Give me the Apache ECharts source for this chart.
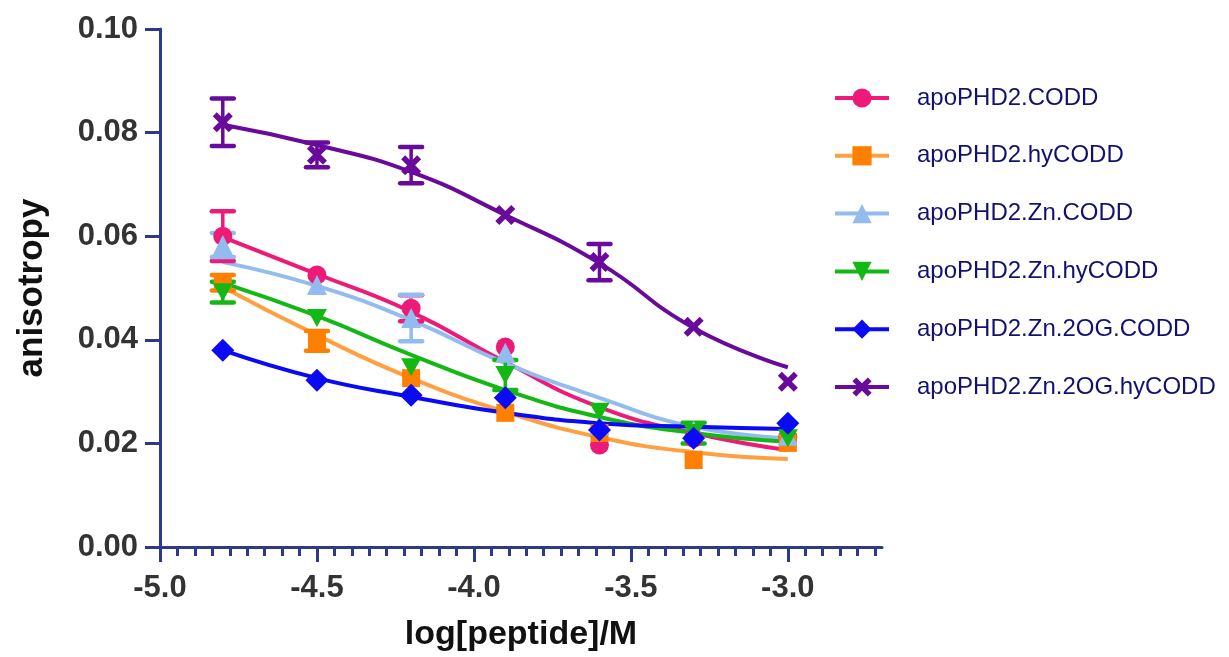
<!DOCTYPE html>
<html>
<head>
<meta charset="utf-8">
<script src="https://cdn.jsdelivr.net/npm/echarts@6/dist/echarts.min.js"></script>
<style>html,body{margin:0;padding:0;background:#fff;}#c{width:1229px;height:657px;}</style>
</head>
<body>
<div id="c"></div>
<script>
// ---- data ----
const xValues = [-4.8, -4.5, -4.2, -3.9, -3.6, -3.3, -3.0];
const xTickLabels = [-5.0, -4.5, -4.0, -3.5, -3.0];
const yTickLabels = [0.00, 0.02, 0.04, 0.06, 0.08, 0.10];
const seriesNames = ['apoPHD2.CODD', 'apoPHD2.hyCODD', 'apoPHD2.Zn.CODD', 'apoPHD2.Zn.hyCODD', 'apoPHD2.Zn.2OG.CODD', 'apoPHD2.Zn.2OG.hyCODD'];

const codd_pts      = [0.0600, 0.0525, 0.0461, 0.0386, 0.0197, 0.0210, 0.0212];
const codd_err      = [0.0048, 0, 0.0025, 0, 0, 0, 0];
const codd_fit      = [0.0598, 0.0527, 0.0454, 0.0357, 0.0270, 0.0220, 0.0187];

const hycodd_pts    = [0.0510, 0.0398, 0.0326, 0.0259, 0.0220, 0.0168, 0.0201];
const hycodd_err    = [0.0015, 0.0019, 0, 0, 0, 0, 0];
const hycodd_fit    = [0.0502, 0.0409, 0.0326, 0.0261, 0.0212, 0.0183, 0.0170];

const zncodd_pts    = [0.0583, 0.0506, 0.0442, 0.0375, 0.0235, 0.0225, 0.0215];
const zncodd_err    = [0.0023, 0, 0.0045, 0, 0, 0, 0];
const zncodd_fit    = [0.0550, 0.0504, 0.0438, 0.0355, 0.0288, 0.0232, 0.0210];

const znhycodd_pts  = [0.0492, 0.0442, 0.0347, 0.0332, 0.0261, 0.0220, 0.0210];
const znhycodd_err  = [0.0020, 0, 0, 0.0029, 0, 0.0020, 0];
const znhycodd_fit  = [0.0510, 0.0446, 0.0371, 0.0303, 0.0251, 0.0220, 0.0203];

const zn2ogcodd_pts = [0.0380, 0.0322, 0.0293, 0.0288, 0.0226, 0.0210, 0.0239];
const zn2ogcodd_err = [0, 0, 0, 0, 0, 0, 0];
const zn2ogcodd_fit = [0.0380, 0.0326, 0.0290, 0.0259, 0.0239, 0.0232, 0.0228];

const zn2oghy_pts   = [0.0820, 0.0757, 0.0737, 0.0641, 0.0550, 0.0425, 0.0319];
const zn2oghy_err   = [0.0046, 0.0024, 0.0035, 0, 0.0035, 0, 0];
const zn2oghy_fit   = [0.0815, 0.0776, 0.0724, 0.0641, 0.0548, 0.0423, 0.0347];

// ---- styling ----
const AXIS = '#2d3a8c';
const FONT = "'Liberation Sans', Arial, sans-serif";
const X_SYMBOL = 'path://M2,0 L5,3 L8,0 L10,2 L7,5 L10,8 L8,10 L5,7 L2,10 L0,8 L3,5 L0,2 Z';
const DOWN_TRI = 'path://M0,0 L10,0 L5,9 Z';

const styles = [
  {line: '#ee1a78', mark: '#ee1a78', symbol: 'circle', size: 19},
  {line: '#ffa040', mark: '#ff8000', symbol: 'rect', size: 18},
  {line: '#92bcf0', mark: '#92bcf0', symbol: 'triangle', size: 20},
  {line: '#14b814', mark: '#14b814', symbol: DOWN_TRI, size: 20},
  {line: '#0a0af5', mark: '#0a0af5', symbol: 'diamond', size: 23},
  {line: '#690a9c', mark: '#690a9c', symbol: X_SYMBOL, size: 20}
];
const ptsList = [codd_pts, hycodd_pts, zncodd_pts, znhycodd_pts, zn2ogcodd_pts, zn2oghy_pts];
const errList = [codd_err, hycodd_err, zncodd_err, znhycodd_err, zn2ogcodd_err, zn2oghy_err];
const fitList = [codd_fit, hycodd_fit, zncodd_fit, znhycodd_fit, zn2ogcodd_fit, zn2oghy_fit];

// minor tick positions (9 subdivisions per 0.5)
const minorTicks = [];
for (let k = 0; k <= 41; k++) { if (k % 9 !== 0) minorTicks.push(-5 + k * 0.5 / 9); }

function errRenderer(color) {
  return function (params, api) {
    const x = api.value(0), y = api.value(1), e = api.value(2);
    const top = api.coord([x, y + e]);
    const bot = api.coord([x, y - e]);
    const hw = 11;
    return {
      type: 'group',
      children: [
        {type: 'line', shape: {x1: top[0], y1: top[1], x2: bot[0], y2: bot[1]}, style: {stroke: color, lineWidth: 3.5}},
        {type: 'line', shape: {x1: top[0] - hw, y1: top[1], x2: top[0] + hw, y2: top[1]}, style: {stroke: color, lineWidth: 4.5, lineCap: 'round'}},
        {type: 'line', shape: {x1: bot[0] - hw, y1: bot[1], x2: bot[0] + hw, y2: bot[1]}, style: {stroke: color, lineWidth: 4.5, lineCap: 'round'}}
      ]
    };
  };
}

const series = [];
// fit curves
seriesNames.forEach((name, i) => {
  series.push({
    name: name, type: 'line', xAxisIndex: 0, yAxisIndex: 0,
    data: xValues.map((x, j) => [x, fitList[i][j]]),
    smooth: 0.5, showSymbol: false,
    symbol: styles[i].symbol, symbolKeepAspect: true, symbolSize: styles[i].size,
    lineStyle: {color: styles[i].line, width: 4},
    itemStyle: {color: styles[i].mark},
    z: 2, silent: true, animation: false
  });
});
// error bars
seriesNames.forEach((name, i) => {
  const d = [];
  xValues.forEach((x, j) => { if (errList[i][j] > 0) d.push([x, ptsList[i][j], errList[i][j]]); });
  series.push({
    type: 'custom', xAxisIndex: 0, yAxisIndex: 0,
    renderItem: errRenderer(styles[i].mark),
    encode: {x: 0, y: 1},
    data: d, z: 3, silent: true, animation: false
  });
});
// data points
seriesNames.forEach((name, i) => {
  series.push({
    name: name, type: 'scatter', xAxisIndex: 0, yAxisIndex: 0,
    data: xValues.map((x, j) => [x, ptsList[i][j]]),
    symbol: styles[i].symbol, symbolSize: styles[i].size, symbolKeepAspect: true,
    itemStyle: {color: styles[i].mark, opacity: 1},
    z: 4, silent: true, animation: false
  });
});

const chart = echarts.init(document.getElementById('c'), null, {renderer: 'canvas'});
chart.setOption({
  backgroundColor: '#ffffff',
  animation: false,
  textStyle: {fontFamily: FONT},
  grid: {left: 160, right: 347, top: 29, bottom: 110, containLabel: false},
  legend: {
    data: seriesNames,
    orient: 'vertical',
    left: 828, top: 81,
    itemWidth: 54, itemHeight: 24, itemGap: 33.8,
    lineStyle: {width: 4},
    textStyle: {fontSize: 24, color: '#12126e', fontFamily: FONT, padding: [0, 0, 0, 23], lineHeight: 24},
    selectedMode: false
  },
  xAxis: [
    {
      type: 'value', min: -5, max: -2.7, interval: 0.5,
      name: 'log[peptide]/M', nameLocation: 'middle', nameGap: 71,
      nameTextStyle: {fontSize: 34, fontWeight: 'bold', color: '#111', fontFamily: FONT},
      axisLine: {show: true, onZero: false, lineStyle: {color: AXIS, width: 3}},
      axisTick: {show: true, length: 15, lineStyle: {color: AXIS, width: 3}, customValues: xTickLabels},
      axisLabel: {
        customValues: xTickLabels,
        formatter: v => v.toFixed(1),
        fontSize: 31, fontWeight: 'bold', color: '#333', margin: 26, fontFamily: FONT
      },
      splitLine: {show: false}
    },
    {
      type: 'value', min: -5, max: -2.7, position: 'bottom',
      axisLine: {show: false},
      axisTick: {show: true, length: 9, lineStyle: {color: AXIS, width: 3}, customValues: minorTicks},
      axisLabel: {show: false},
      splitLine: {show: false}
    }
  ],
  yAxis: {
    type: 'value', min: 0, max: 0.1, interval: 0.02,
    name: 'anisotropy', nameLocation: 'middle', nameGap: 110,
    nameTextStyle: {fontSize: 35, fontWeight: 'bold', color: '#111', fontFamily: FONT},
    axisLine: {show: true, lineStyle: {color: AXIS, width: 3}},
    axisTick: {show: true, length: 15, lineStyle: {color: AXIS, width: 3}},
    axisLabel: {formatter: v => v.toFixed(2), fontSize: 31, fontWeight: 'bold', color: '#333', margin: 22, fontFamily: FONT},
    splitLine: {show: false}
  },
  series: series
});
</script>
</body>
</html>
